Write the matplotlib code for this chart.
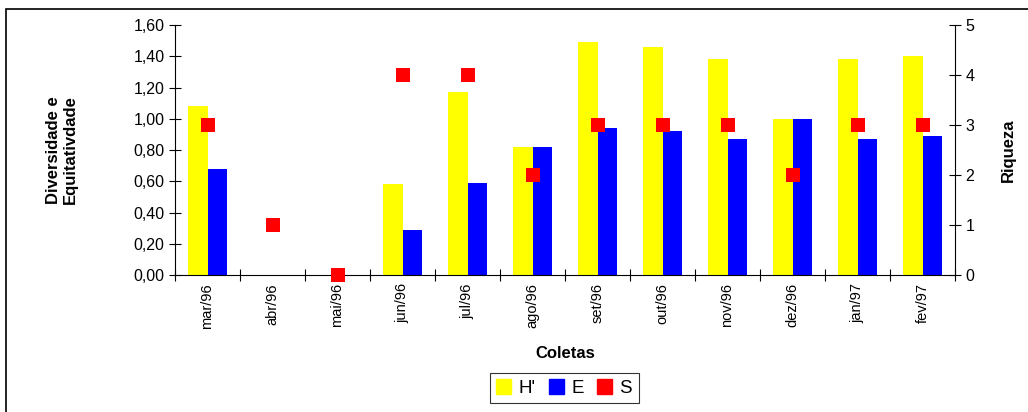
import matplotlib.pyplot as plt
import numpy as np
from matplotlib.patches import Rectangle, Patch

plt.rcParams['font.family'] = ['Liberation Sans', 'DejaVu Sans']

coletas = ['mar/96', 'abr/96', 'mai/96', 'jun/96', 'jul/96', 'ago/96',
           'set/96', 'out/96', 'nov/96', 'dez/96', 'jan/97', 'fev/97']
h_div = [1.08, 0, 0, 0.58, 1.17, 0.82, 1.49, 1.46, 1.38, 1.00, 1.38, 1.40]
e_equit = [0.68, 0, 0, 0.29, 0.59, 0.82, 0.94, 0.92, 0.87, 1.00, 0.87, 0.89]
s_riq = [3, 1, 0, 4, 4, 2, 3, 3, 3, 2, 3, 3]

fig = plt.figure(figsize=(10.28, 4.12), dpi=100)
ax = fig.add_axes([175/1028, 1 - 275/412, 780/1028, 250/412])
ax2 = ax.twinx()

x = np.arange(len(coletas))
w = 0.3
ax.bar(x - w/2, h_div, w, color='#ffff00', zorder=2)
ax.bar(x + w/2, e_equit, w, color='#0000ff', zorder=2)
ax2.plot(x, s_riq, linestyle='none', marker='s', markersize=10.5,
         color='#ff0000', markeredgewidth=0, clip_on=False, zorder=3)
ax2.set_zorder(ax.get_zorder() + 1)

ax.set_xlim(-0.5, len(coletas) - 0.5)
ax.set_ylim(0, 1.6)
ax2.set_ylim(0, 5)
yt = np.arange(0, 1.61, 0.2)
ax.set_yticks(yt)
ax.set_yticklabels([('%.2f' % v).replace('.', ',') for v in yt])
ax2.set_yticks(range(6))

ax.set_xticks(x)
ax.set_xticklabels(coletas, rotation=90)
ax.set_xticks(np.arange(-0.5, len(coletas)), minor=True)
ax.tick_params(axis='x', which='major', length=0, pad=6)
ax.tick_params(axis='x', which='minor', direction='inout', length=8, width=0.8)
ax.tick_params(axis='y', direction='inout', length=8, width=0.8)
ax2.tick_params(axis='y', direction='inout', length=8, width=0.8)
ax.tick_params(axis='y', labelsize=11.5)
ax2.tick_params(axis='y', labelsize=11.5)
ax.tick_params(axis='x', labelsize=10.5)
for a in (ax, ax2):
    a.spines['top'].set_visible(False)
    for s in a.spines.values():
        s.set_linewidth(0.8)
ax2.spines['left'].set_visible(False)
ax2.spines['bottom'].set_visible(False)
ax.spines['right'].set_visible(False)

ax.set_ylabel('Diversidade e\nEquitativdade', fontweight='bold', fontsize=12, labelpad=40)
ax2.set_ylabel('Riqueza', fontweight='bold', fontsize=12, labelpad=19)
ax.set_xlabel('Coletas', fontweight='bold', fontsize=12, labelpad=12)

handles = [Patch(color='#ffff00'), Patch(color='#0000ff'), Patch(color='#ff0000')]
leg = fig.legend(handles, ["H'", 'E', 'S'], loc='center', bbox_to_anchor=(564/1028, 1 - 388/412),
                 ncol=3, fontsize=13.5, frameon=True, fancybox=False, edgecolor='black',
                 handlelength=0.8, handleheight=0.8, handletextpad=0.4, columnspacing=0.7,
                 borderpad=0.35)
leg.get_frame().set_linewidth(0.8)

fig.patches.append(Rectangle((6/1028, -0.05), 1.2, 1 - 9/412 + 0.05, transform=fig.transFigure,
                             fill=False, edgecolor='black', linewidth=1.2))

fig.savefig('out.png', dpi=100)
